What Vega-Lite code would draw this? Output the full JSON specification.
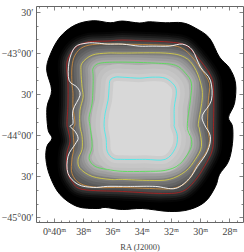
{
"$schema":"https://vega.github.io/schema/vega-lite/v6.json",
"autosize":{"type":"none"},
"padding":{"left":36,"top":6,"right":1,"bottom":30},
"width":207,"height":216,
"background":"white",
"view":{"stroke":"#666","strokeWidth":1},
"config":{"axis":{"labelFont":"Liberation Serif","titleFont":"Liberation Serif","labelColor":"#444","titleColor":"#444","titleFontWeight":"normal","domain":false,"grid":false,"tickColor":"#666","tickWidth":0.8}},
"datasets":{
"blob":[{"ra":40.16,"dec":-43.452},{"ra":40.50,"dec":-43.208},{"ra":40.27,"dec":-43.025},{"ra":39.59,"dec":-42.805},{"ra":38.56,"dec":-42.659},{"ra":37.32,"dec":-42.606},{"ra":36.16,"dec":-42.631},{"ra":35.33,"dec":-42.610},{"ra":34.17,"dec":-42.634},{"ra":33.48,"dec":-42.619},{"ra":32.39,"dec":-42.631},{"ra":31.22,"dec":-42.631},{"ra":30.33,"dec":-42.695},{"ra":29.37,"dec":-42.817},{"ra":28.68,"dec":-43.049},{"ra":27.99,"dec":-43.183},{"ra":27.58,"dec":-43.366},{"ra":27.65,"dec":-43.610},{"ra":28.06,"dec":-43.781},{"ra":27.79,"dec":-43.891},{"ra":27.79,"dec":-44.098},{"ra":28.06,"dec":-44.317},{"ra":28.68,"dec":-44.476},{"ra":28.95,"dec":-44.622},{"ra":29.64,"dec":-44.805},{"ra":30.74,"dec":-44.903},{"ra":32.11,"dec":-44.927},{"ra":33.96,"dec":-44.891},{"ra":35.33,"dec":-44.903},{"ra":36.50,"dec":-44.878},{"ra":37.05,"dec":-44.891},{"ra":38.42,"dec":-44.866},{"ra":39.59,"dec":-44.720},{"ra":40.27,"dec":-44.500},{"ra":40.55,"dec":-44.293},{"ra":40.48,"dec":-44.134},{"ra":40.14,"dec":-44.037},{"ra":40.41,"dec":-43.927},{"ra":40.48,"dec":-43.659}],
"red":[{"ra":39.04,"dec":-43.366},{"ra":39.11,"dec":-43.110},{"ra":38.56,"dec":-42.939},{"ra":37.67,"dec":-42.866},{"ra":36.36,"dec":-42.854},{"ra":35.33,"dec":-42.842},{"ra":33.48,"dec":-42.854},{"ra":32.11,"dec":-42.866},{"ra":31.01,"dec":-42.903},{"ra":30.19,"dec":-43.049},{"ra":29.30,"dec":-43.269},{"ra":29.09,"dec":-43.452},{"ra":29.09,"dec":-43.891},{"ra":29.16,"dec":-44.171},{"ra":29.71,"dec":-44.378},{"ra":30.40,"dec":-44.561},{"ra":31.22,"dec":-44.683},{"ra":32.59,"dec":-44.708},{"ra":35.33,"dec":-44.683},{"ra":38.01,"dec":-44.659},{"ra":38.77,"dec":-44.561},{"ra":39.11,"dec":-44.415},{"ra":39.11,"dec":-44.220},{"ra":38.90,"dec":-44.074},{"ra":39.04,"dec":-43.927},{"ra":39.11,"dec":-43.854},{"ra":39.04,"dec":-43.610}],
"white":[{"ra":38.97,"dec":-43.330},{"ra":38.97,"dec":-43.110},{"ra":38.56,"dec":-42.927},{"ra":37.74,"dec":-42.878},{"ra":37.05,"dec":-42.878},{"ra":36.36,"dec":-42.891},{"ra":35.33,"dec":-42.891},{"ra":34.17,"dec":-42.915},{"ra":33.28,"dec":-42.915},{"ra":32.11,"dec":-42.915},{"ra":31.22,"dec":-42.891},{"ra":30.53,"dec":-42.964},{"ra":29.98,"dec":-43.171},{"ra":29.30,"dec":-43.330},{"ra":29.23,"dec":-43.574},{"ra":29.85,"dec":-43.756},{"ra":29.71,"dec":-43.870},{"ra":29.30,"dec":-44.013},{"ra":29.50,"dec":-44.195},{"ra":30.19,"dec":-44.378},{"ra":30.74,"dec":-44.525},{"ra":31.70,"dec":-44.647},{"ra":33.07,"dec":-44.622},{"ra":34.65,"dec":-44.622},{"ra":35.33,"dec":-44.622},{"ra":36.36,"dec":-44.622},{"ra":37.32,"dec":-44.634},{"ra":38.35,"dec":-44.598},{"ra":39.04,"dec":-44.464},{"ra":39.04,"dec":-44.256},{"ra":38.56,"dec":-44.110},{"ra":38.35,"dec":-44.037},{"ra":38.56,"dec":-43.952},{"ra":38.90,"dec":-43.891},{"ra":38.70,"dec":-43.854},{"ra":38.70,"dec":-43.695},{"ra":38.22,"dec":-43.513},{"ra":38.42,"dec":-43.415}],
"orange":[{"ra":38.77,"dec":-43.171},{"ra":38.56,"dec":-43.025},{"ra":38.01,"dec":-42.927},{"ra":37.05,"dec":-42.891},{"ra":35.33,"dec":-42.891},{"ra":32.59,"dec":-42.903},{"ra":31.42,"dec":-42.927},{"ra":30.67,"dec":-43.025},{"ra":29.98,"dec":-43.183},{"ra":29.37,"dec":-43.366},{"ra":29.44,"dec":-43.574},{"ra":29.50,"dec":-43.891},{"ra":29.37,"dec":-44.074},{"ra":29.64,"dec":-44.220},{"ra":30.19,"dec":-44.354},{"ra":30.88,"dec":-44.561},{"ra":31.90,"dec":-44.647},{"ra":33.48,"dec":-44.647},{"ra":35.33,"dec":-44.634},{"ra":37.05,"dec":-44.634},{"ra":38.22,"dec":-44.586},{"ra":38.77,"dec":-44.464},{"ra":38.77,"dec":-44.293},{"ra":38.63,"dec":-44.134},{"ra":38.70,"dec":-43.927},{"ra":38.56,"dec":-43.854},{"ra":38.70,"dec":-43.659},{"ra":38.70,"dec":-43.488},{"ra":38.77,"dec":-43.366}],
"yellow":[{"ra":38.15,"dec":-43.232},{"ra":38.08,"dec":-43.122},{"ra":37.39,"dec":-43.025},{"ra":36.36,"dec":-43.000},{"ra":35.33,"dec":-43.000},{"ra":32.39,"dec":-43.000},{"ra":31.08,"dec":-43.049},{"ra":30.40,"dec":-43.171},{"ra":29.98,"dec":-43.354},{"ra":29.85,"dec":-43.537},{"ra":30.12,"dec":-43.854},{"ra":30.05,"dec":-43.927},{"ra":29.91,"dec":-44.134},{"ra":30.33,"dec":-44.293},{"ra":31.01,"dec":-44.439},{"ra":32.11,"dec":-44.537},{"ra":33.48,"dec":-44.549},{"ra":35.33,"dec":-44.537},{"ra":36.16,"dec":-44.537},{"ra":37.39,"dec":-44.500},{"ra":38.22,"dec":-44.403},{"ra":38.35,"dec":-44.293},{"ra":38.08,"dec":-44.171},{"ra":38.08,"dec":-44.013},{"ra":38.22,"dec":-43.891},{"ra":38.22,"dec":-43.695},{"ra":38.01,"dec":-43.537},{"ra":38.08,"dec":-43.415}],
"green":[{"ra":37.32,"dec":-43.269},{"ra":37.32,"dec":-43.183},{"ra":36.84,"dec":-43.122},{"ra":35.33,"dec":-43.110},{"ra":33.07,"dec":-43.122},{"ra":31.70,"dec":-43.147},{"ra":31.01,"dec":-43.244},{"ra":30.60,"dec":-43.366},{"ra":30.67,"dec":-43.574},{"ra":30.88,"dec":-43.891},{"ra":30.60,"dec":-44.049},{"ra":30.67,"dec":-44.171},{"ra":31.42,"dec":-44.354},{"ra":32.39,"dec":-44.427},{"ra":33.76,"dec":-44.439},{"ra":35.33,"dec":-44.439},{"ra":36.36,"dec":-44.415},{"ra":37.19,"dec":-44.378},{"ra":37.60,"dec":-44.281},{"ra":37.39,"dec":-44.134},{"ra":37.53,"dec":-43.891},{"ra":37.60,"dec":-43.781},{"ra":37.39,"dec":-43.610},{"ra":37.32,"dec":-43.366}],
"cyan":[{"ra":36.16,"dec":-43.330},{"ra":35.81,"dec":-43.293},{"ra":35.33,"dec":-43.293},{"ra":34.17,"dec":-43.305},{"ra":33.28,"dec":-43.293},{"ra":32.39,"dec":-43.305},{"ra":31.77,"dec":-43.391},{"ra":31.63,"dec":-43.488},{"ra":31.77,"dec":-43.659},{"ra":31.77,"dec":-43.854},{"ra":31.77,"dec":-43.891},{"ra":31.56,"dec":-44.013},{"ra":31.70,"dec":-44.159},{"ra":32.39,"dec":-44.293},{"ra":33.76,"dec":-44.293},{"ra":35.33,"dec":-44.293},{"ra":35.95,"dec":-44.281},{"ra":36.36,"dec":-44.195},{"ra":36.43,"dec":-44.049},{"ra":36.57,"dec":-43.891},{"ra":36.50,"dec":-43.732},{"ra":36.30,"dec":-43.574},{"ra":36.23,"dec":-43.427}]
},
"resolve":{"scale":{"x":"shared","y":"shared"},"axis":{"x":"independent","y":"independent"}},
"encoding":{
"x":{"field":"ra","type":"quantitative","scale":{"domain":[41.23,27.07],"nice":false,"zero":false},"axis":null},
"y":{"field":"dec","type":"quantitative","scale":{"domain":[-45.055,-42.427],"nice":false,"zero":false},"axis":null},
"order":{"value":null}
},
"layer":[
{"data":{"name":"blob"},"mark":{"type":"line","interpolate":"cardinal-closed","fill":"#000","stroke":"#000","strokeWidth":1},
 "encoding":{
 "x":{"field":"ra","type":"quantitative","scale":{"domain":[41.23,27.07],"nice":false,"zero":false},"title":"RA (J2000)","axis":{"orient":"bottom","values":[40,38,36,34,32,30,28],"tickSize":-4,"labelExpr":"datum.value==40?'0ʰ40ᵐ':datum.value+'ᵐ'","labelFontSize":10,"labelPadding":8,"titleFontSize":8.5,"titlePadding":6}},
 "y":{"field":"dec","type":"quantitative","scale":{"domain":[-45.055,-42.427],"nice":false,"zero":false},"title":null,"axis":{"orient":"left","values":[-45,-44.5,-44,-43.5,-43,-42.5],"tickSize":-4,"labelExpr":"datum.value==-45?'−45°00′':datum.value==-44?'−44°00′':datum.value==-43?'−43°00′':'30′'","labelFontSize":10,"labelPadding":7}}}},
{"data":{"name":"blob"},"mark":{"type":"line","opacity":0},
 "encoding":{
 "x":{"field":"ra","type":"quantitative","scale":{"domain":[41.23,27.07],"nice":false,"zero":false},"title":null,"axis":{"orient":"bottom","values":[40.5,39.5,39,38.5,37.5,37,36.5,35.5,35,34.5,33.5,33,32.5,31.5,31,30.5,29.5,29,28.5,27.5,41],"tickSize":-2,"labels":false}},
 "y":{"field":"dec","type":"quantitative","scale":{"domain":[-45.055,-42.427],"nice":false,"zero":false},"title":null,"axis":{"orient":"left","values":[-44.833,-44.667,-44.333,-44.167,-43.833,-43.667,-43.333,-43.167,-42.833,-42.667],"tickSize":-2,"labels":false}}}},
{"data":{"name":"blob"},"mark":{"type":"line","opacity":0},
 "encoding":{
 "x":{"field":"ra","type":"quantitative","scale":{"domain":[41.23,27.07],"nice":false,"zero":false},"title":null,"axis":{"orient":"top","values":[40,38,36,34,32,30,28],"tickSize":-4,"labels":false}},
 "y":{"field":"dec","type":"quantitative","scale":{"domain":[-45.055,-42.427],"nice":false,"zero":false},"title":null,"axis":{"orient":"right","values":[-45,-44.5,-44,-43.5,-43,-42.5],"tickSize":-4,"labels":false}}}},
{"data":{"name":"blob"},"mark":{"type":"line","opacity":0},
 "encoding":{
 "x":{"field":"ra","type":"quantitative","scale":{"domain":[41.23,27.07],"nice":false,"zero":false},"title":null,"axis":{"orient":"top","values":[40.5,39.5,39,38.5,37.5,37,36.5,35.5,35,34.5,33.5,33,32.5,31.5,31,30.5,29.5,29,28.5,27.5,41],"tickSize":-2,"labels":false}},
 "y":{"field":"dec","type":"quantitative","scale":{"domain":[-45.055,-42.427],"nice":false,"zero":false},"title":null,"axis":{"orient":"right","values":[-44.833,-44.667,-44.333,-44.167,-43.833,-43.667,-43.333,-43.167,-42.833,-42.667],"tickSize":-2,"labels":false}}}},
{"data":{"name":"red"},"mark":{"type":"line","interpolate":"cardinal-closed","stroke":"#060606","strokeWidth":18}},
{"data":{"name":"red"},"mark":{"type":"line","interpolate":"cardinal-closed","stroke":"#101010","strokeWidth":14}},
{"data":{"name":"red"},"mark":{"type":"line","interpolate":"cardinal-closed","stroke":"#1e1e1e","strokeWidth":10}},
{"data":{"name":"red"},"mark":{"type":"line","interpolate":"cardinal-closed","stroke":"#2e2e2e","strokeWidth":6}},
{"data":{"name":"red"},"mark":{"type":"line","interpolate":"cardinal-closed","stroke":"#3c3c3c","strokeWidth":2,"fill":"#4a4a4a"}},
{"data":{"name":"orange"},"mark":{"type":"line","interpolate":"cardinal-closed","stroke":"#525252","strokeWidth":3,"fill":"#5a5a5a"}},
{"data":{"name":"yellow"},"mark":{"type":"line","interpolate":"cardinal-closed","stroke":"#646464","strokeWidth":14}},
{"data":{"name":"yellow"},"mark":{"type":"line","interpolate":"cardinal-closed","stroke":"#707070","strokeWidth":9}},
{"data":{"name":"yellow"},"mark":{"type":"line","interpolate":"cardinal-closed","stroke":"#7c7c7c","strokeWidth":4,"fill":"#8a8a8a"}},
{"data":{"name":"green"},"mark":{"type":"line","interpolate":"cardinal-closed","stroke":"#949494","strokeWidth":15}},
{"data":{"name":"green"},"mark":{"type":"line","interpolate":"cardinal-closed","stroke":"#a0a0a0","strokeWidth":10}},
{"data":{"name":"green"},"mark":{"type":"line","interpolate":"cardinal-closed","stroke":"#acacac","strokeWidth":5,"fill":"#bababa"}},
{"data":{"name":"cyan"},"mark":{"type":"line","interpolate":"cardinal-closed","stroke":"#c0c0c0","strokeWidth":26}},
{"data":{"name":"cyan"},"mark":{"type":"line","interpolate":"cardinal-closed","stroke":"#c6c6c6","strokeWidth":17}},
{"data":{"name":"cyan"},"mark":{"type":"line","interpolate":"cardinal-closed","stroke":"#cdcdcd","strokeWidth":8,"fill":"#d8d8d8"}},
{"data":{"name":"red"},"mark":{"type":"line","interpolate":"cardinal-closed","stroke":"#a82020","strokeWidth":0.9}},
{"data":{"name":"orange"},"mark":{"type":"line","interpolate":"cardinal-closed","stroke":"#c88a40","strokeWidth":0.9}},
{"data":{"name":"white"},"mark":{"type":"line","interpolate":"cardinal-closed","stroke":"#ffffff","strokeWidth":0.9}},
{"data":{"name":"yellow"},"mark":{"type":"line","interpolate":"cardinal-closed","stroke":"#d4cc48","strokeWidth":0.9}},
{"data":{"name":"green"},"mark":{"type":"line","interpolate":"cardinal-closed","stroke":"#58dc58","strokeWidth":0.9}},
{"data":{"name":"cyan"},"mark":{"type":"line","interpolate":"cardinal-closed","stroke":"#48ecec","strokeWidth":0.9}}
]
}
